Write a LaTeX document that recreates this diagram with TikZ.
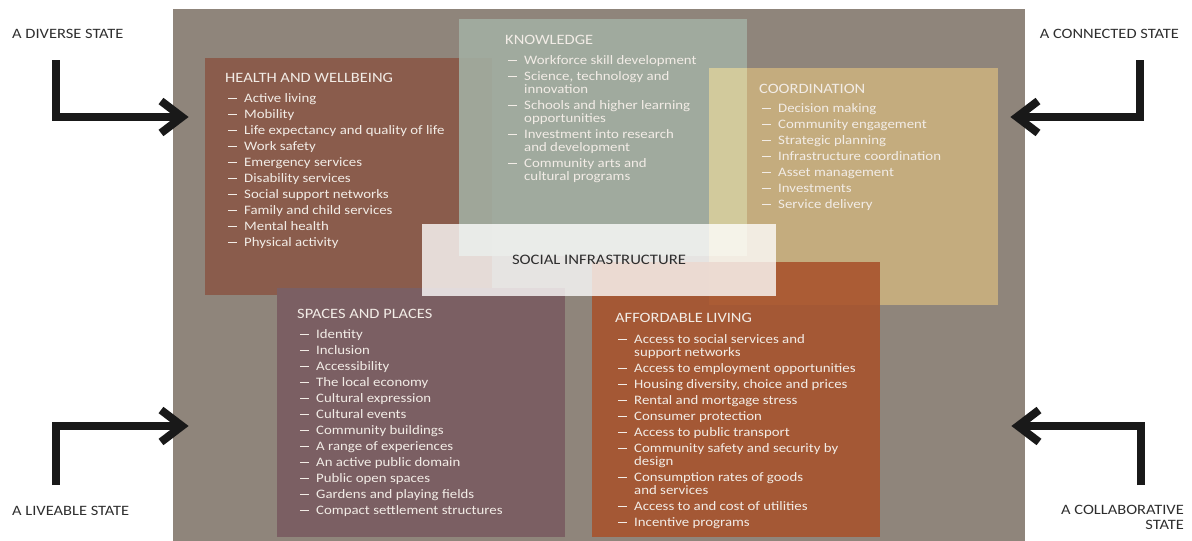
\documentclass[tikz,border=0pt]{standalone}
\usepackage{fontspec}
\setmainfont{Carlito}[FakeStretch=1.15]
\usetikzlibrary{calc}
\definecolor{bggray}{HTML}{8F857B}
\definecolor{healthc}{HTML}{8A5C4C}
\definecolor{knowc}{HTML}{A2AFA2}
\definecolor{coordc}{HTML}{C4AC7E}
\definecolor{kcover}{HTML}{D2CA9C}
\definecolor{spacec}{HTML}{7B5F63}
\definecolor{affc}{HTML}{A8522C}
\definecolor{boxfg}{HTML}{F2ECE6}
\definecolor{labfg}{HTML}{2E2E2E}
\newcommand{\bxitem}[1]{\hspace*{3pt}\makebox[16pt][l]{\rule[3.4pt]{9pt}{0.9pt}}#1}
\newcommand{\bxcont}[1]{\hspace*{19pt}#1}
\newcommand{\bxhead}[1]{{\fontsize{14.3}{16}\selectfont #1}}
\begin{document}
\begin{tikzpicture}[x=1pt,y=-1pt,
  boxtext/.style={anchor=north west, inner sep=0pt, align=left, text=boxfg,
    font=\fontsize{12.9}{16}\selectfont},
  statelab/.style={inner sep=0pt, text=labfg, font=\fontsize{14.3}{15}\selectfont},
  arrowline/.style={draw=black!90, line width=8pt, line cap=butt, line join=miter}]
\useasboundingbox (0,0) rectangle (1192,541);
% panels
\fill[bggray] (173,9) rectangle (1025,541);
\fill[healthc] (205,58) rectangle (492,295);
\fill[knowc, fill opacity=0.9] (459,19) rectangle (747,256);
\fill[coordc] (709,68) rectangle (998,305);
\fill[kcover] (709,68) rectangle (747,256);
\fill[spacec] (277,288) rectangle (565,537);
\fill[affc, fill opacity=0.88] (592,262) rectangle (880,537);
\fill[white, fill opacity=0.78] (422,224) rectangle (776,296);
% texts
\node[boxtext] (hw) at (225,73) {\bxhead{HEALTH AND WELLBEING}\\[4pt]
\bxitem{Active living}\\
\bxitem{Mobility}\\
\bxitem{Life expectancy and quality of life}\\
\bxitem{Work safety}\\
\bxitem{Emergency services}\\
\bxitem{Disability services}\\
\bxitem{Social support networks}\\
\bxitem{Family and child services}\\
\bxitem{Mental health}\\
\bxitem{Physical activity}};
\node[boxtext] (kn) at (505,35) {\bxhead{KNOWLEDGE}\\[4pt]
\bxitem{Workforce skill development}\\
\bxitem{Science, technology and}\\[-3pt]
\bxcont{innovation}\\
\bxitem{Schools and higher learning}\\[-3pt]
\bxcont{opportunities}\\
\bxitem{Investment into research}\\[-3pt]
\bxcont{and development}\\
\bxitem{Community arts and}\\[-3pt]
\bxcont{cultural programs}};
\node[boxtext] (co) at (759,84) {\bxhead{COORDINATION}\\[3pt]
\bxitem{Decision making}\\
\bxitem{Community engagement}\\
\bxitem{Strategic planning}\\
\bxitem{Infrastructure coordination}\\
\bxitem{Asset management}\\
\bxitem{Investments}\\
\bxitem{Service delivery}};
\node[inner sep=0pt, text=labfg, font=\fontsize{14.5}{15}\selectfont] (si) at (599,260) {SOCIAL INFRASTRUCTURE};
\node[boxtext] (sp) at (297,309) {\bxhead{SPACES AND PLACES}\\[4pt]
\bxitem{Identity}\\
\bxitem{Inclusion}\\
\bxitem{Accessibility}\\
\bxitem{The local economy}\\
\bxitem{Cultural expression}\\
\bxitem{Cultural events}\\
\bxitem{Community buildings}\\
\bxitem{A range of experiences}\\
\bxitem{An active public domain}\\
\bxitem{Public open spaces}\\
\bxitem{Gardens and playing fields}\\
\bxitem{Compact settlement structures}};
\node[boxtext] (al) at (615,313) {\bxhead{AFFORDABLE LIVING}\\[5pt]
\bxitem{Access to social services and}\\[-3pt]
\bxcont{support networks}\\
\bxitem{Access to employment opportunities}\\
\bxitem{Housing diversity, choice and prices}\\
\bxitem{Rental and mortgage stress}\\
\bxitem{Consumer protection}\\
\bxitem{Access to public transport}\\
\bxitem{Community safety and security by}\\[-3pt]
\bxcont{design}\\
\bxitem{Consumption rates of goods}\\[-3pt]
\bxcont{and services}\\
\bxitem{Access to and cost of utilities}\\
\bxitem{Incentive programs}};
% state labels
\node[statelab, anchor=west] (ds) at (12,34) {A DIVERSE STATE};
\node[statelab, anchor=east] (cs) at (1179,34) {A CONNECTED STATE};
\node[statelab, anchor=west] (ls) at (12,511) {A LIVEABLE STATE};
\node[statelab, anchor=north east, align=right] (cb) at (1184,505.5) {A COLLABORATIVE\\STATE};
% arrows
\coordinate (dvS) at (56,60);   \coordinate (dvT) at (182,117);
\coordinate (cnS) at (1140,60); \coordinate (cnT) at (1017,117);
\coordinate (lvS) at (56,485);  \coordinate (lvT) at (182,426);
\coordinate (clS) at (1141,485);\coordinate (clT) at (1018,426);
\draw[arrowline] (dvS) |- (dvT);
\draw[arrowline] ($(dvT)+(-21,-16)$) -- (dvT) -- ($(dvT)+(-21,16)$);
\draw[arrowline] (cnS) |- (cnT);
\draw[arrowline] ($(cnT)+(21,-16)$) -- (cnT) -- ($(cnT)+(21,16)$);
\draw[arrowline] (lvS) |- (lvT);
\draw[arrowline] ($(lvT)+(-21,-16)$) -- (lvT) -- ($(lvT)+(-21,16)$);
\draw[arrowline] (clS) |- (clT);
\draw[arrowline] ($(clT)+(21,-16)$) -- (clT) -- ($(clT)+(21,16)$);
\end{tikzpicture}
\end{document}
